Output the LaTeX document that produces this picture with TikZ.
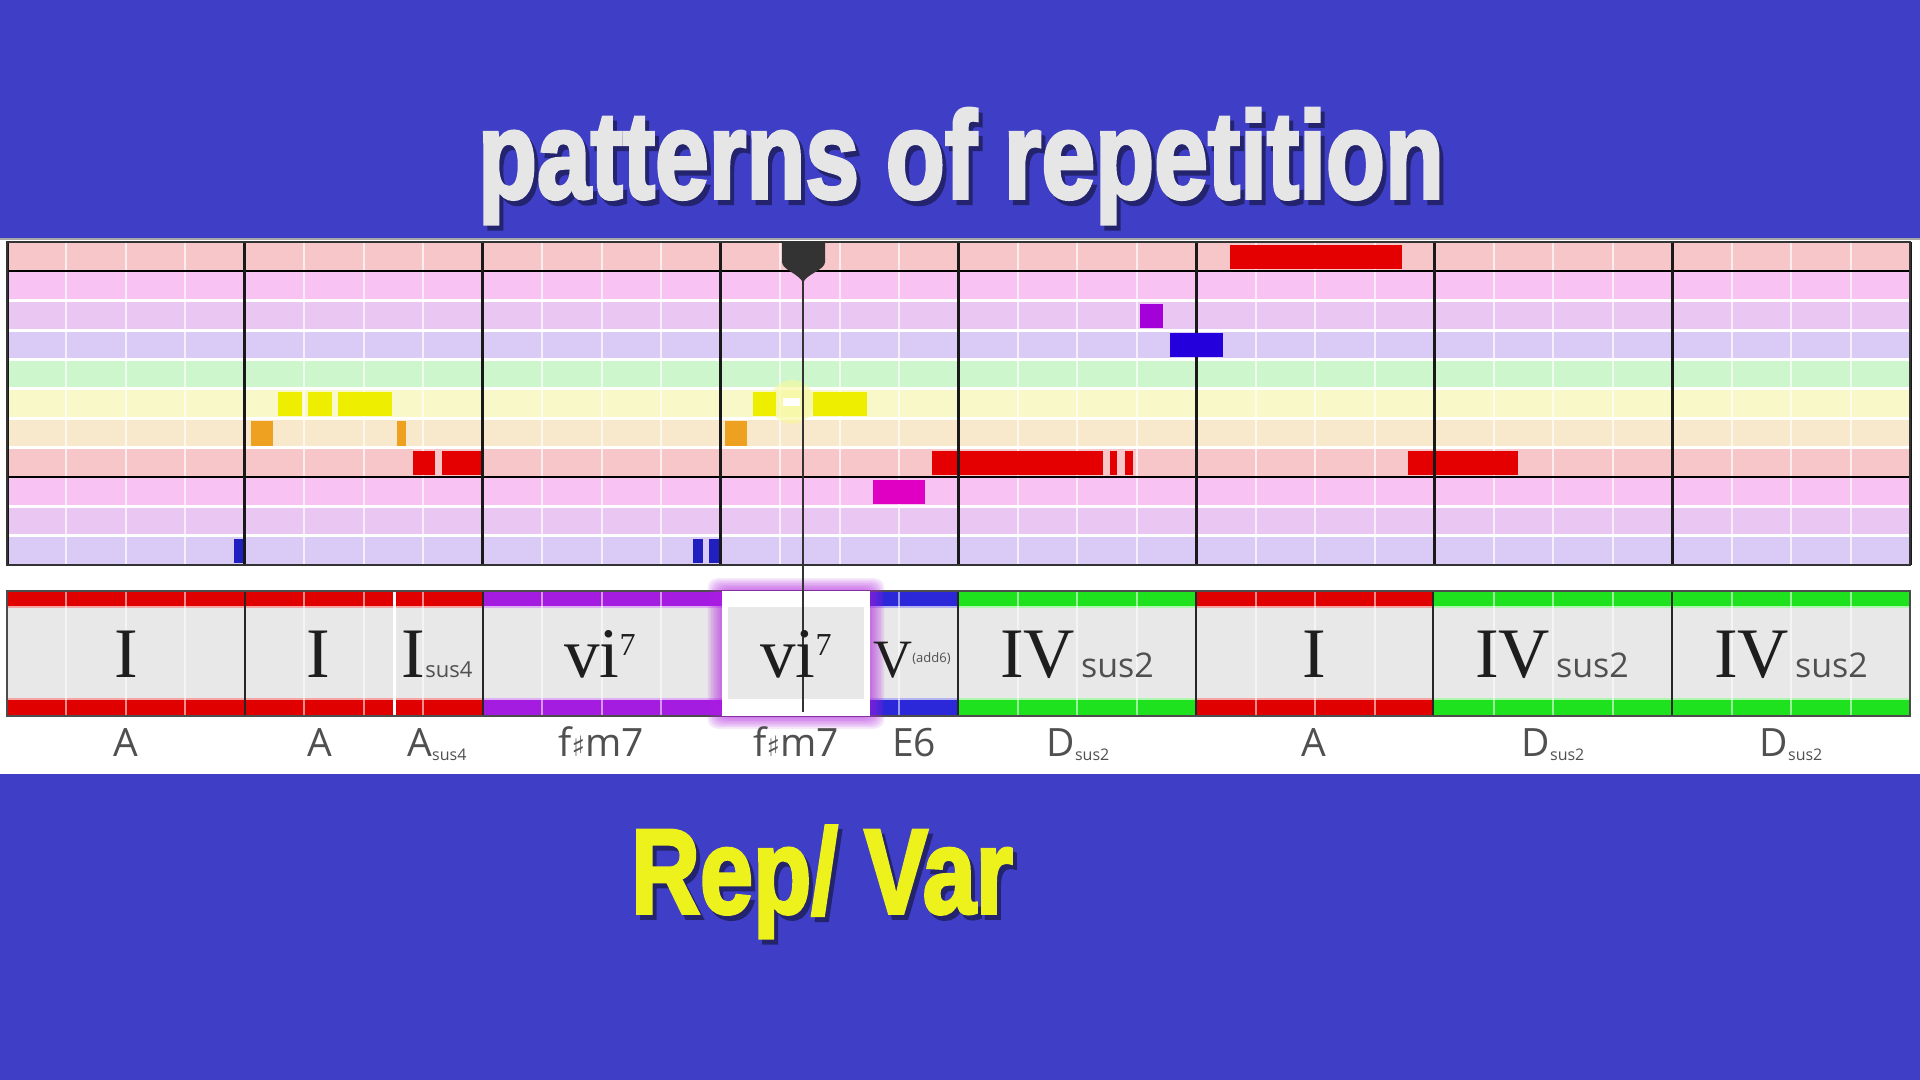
\documentclass[tikz,border=0pt]{standalone}
\usepackage{fontspec}
\usepackage{graphicx}
\setmainfont{Liberation Serif}
\newfontfamily\impactfont{Liberation Sans}[BoldFeatures={FakeBold=3}]
\newfontfamily\lblfont{Open Sans}
\newfontfamily\romfont{Liberation Serif}
\newfontfamily\symfont{DejaVu Sans}

\definecolor{bgblue}{HTML}{3E3EC6}
\definecolor{rowS}{HTML}{F6C6C8}
\definecolor{rowP}{HTML}{F8C2F2}
\definecolor{rowV}{HTML}{EAC6F2}
\definecolor{rowL}{HTML}{DACAF6}
\definecolor{rowG}{HTML}{CEF6CC}
\definecolor{rowY}{HTML}{F8F8C8}
\definecolor{rowO}{HTML}{F8E8CC}
\definecolor{nred}{HTML}{E40000}
\definecolor{nyellow}{HTML}{EEEE00}
\definecolor{norange}{HTML}{EEA020}
\definecolor{nmagenta}{HTML}{E000C4}
\definecolor{npurple}{HTML}{A400D8}
\definecolor{nblue}{HTML}{2400DC}
\definecolor{nblue2}{HTML}{2020C0}
\definecolor{cred}{HTML}{E00000}
\definecolor{cpurple}{HTML}{A41CE0}
\definecolor{cblue}{HTML}{2A28D8}
\definecolor{cgreen}{HTML}{1EE21E}
\definecolor{barbody}{HTML}{E8E8E8}
\definecolor{glowp}{HTML}{B020E0}
\definecolor{phgray}{HTML}{333333}
\definecolor{romcol}{HTML}{1E1E1E}
\definecolor{lblcol}{HTML}{505050}
\definecolor{titlegray}{HTML}{E6E6E6}
\definecolor{shadowblue}{HTML}{24246E}
\definecolor{repyellow}{HTML}{EEF21C}

\newcommand\pnote[4]{\fill[#4] (#1,{242+#3*29.36+3}) rectangle (#2,{242+#3*29.36+27.4});}
\newcommand\cstripe[3]{%
  \fill[#3] (#1,591) rectangle (#2,606);
  \fill[#3] (#1,700) rectangle (#2,716);
  \draw[#3!35!white, line width=0.8pt] (#1,607) -- (#2,607);
  \draw[#3!35!white, line width=0.8pt] (#1,699) -- (#2,699);}
\newcommand\shadowtext[3]{\rlap{\kern2.5pt\raisebox{-2.5pt}{\textcolor{shadowblue}{#1}}}\textcolor{#2}{#1}}

\tikzset{
  rom/.style={font={\romfont\fontsize{35.5pt}{36pt}\selectfont}, text=romcol, anchor=base, inner sep=0pt},
  chl/.style={font={\lblfont\fontsize{19.5pt}{20pt}\selectfont}, text=lblcol, anchor=base, inner sep=0pt},
  ttl/.style={font={\impactfont\bfseries\fontsize{60pt}{60pt}\selectfont}, anchor=base, inner sep=0pt},
  beat/.style={white, line width=1pt, opacity=0.7},
}

\begin{document}
\begin{tikzpicture}[x=0.5pt,y=-0.5pt]
\useasboundingbox (0,0) rectangle (1920,1080);
\fill[bgblue] (0,0) rectangle (1920,1080);
\fill[white] (0,238) rectangle (1920,774);
\draw[black!35, line width=0.8pt] (0,239) -- (1920,239);

% piano roll rows
\foreach \c [count=\i from 0] in {rowS,rowP,rowV,rowL,rowG,rowY,rowO,rowS,rowP,rowV,rowL}
  \fill[\c] (7,{242+\i*29.36}) rectangle (1910,{242+(\i+1)*29.36});
\foreach \i in {2,3,4,5,6,7,9,10}
  \draw[white, line width=1.5pt] (7,{242+\i*29.36}) -- (1910,{242+\i*29.36});
\foreach \m in {0,...,7} \foreach \b in {1,2,3}
  \draw[beat] ({7+\m*237.875+\b*59.47},242) -- ++(0,323);

% notes
\pnote{234}{244}{10}{nblue2}
\pnote{278}{302}{5}{nyellow}
\pnote{308}{332}{5}{nyellow}
\pnote{338}{392}{5}{nyellow}
\pnote{251}{273}{6}{norange}
\pnote{397}{406}{6}{norange}
\pnote{413}{435}{7}{nred}
\pnote{442}{481}{7}{nred}
\pnote{693}{703}{10}{nblue2}
\pnote{709}{719}{10}{nblue2}
\pnote{725}{747}{6}{norange}
\fill[nyellow!40!white, opacity=0.6] (792,402) circle (22);
\pnote{753}{776}{5}{nyellow}
\pnote{813}{867}{5}{nyellow}
\fill[white] (783,398) rectangle (800,406);
\pnote{873}{925}{8}{nmagenta}
\pnote{932}{1103}{7}{nred}
\pnote{1110}{1117}{7}{nred}
\pnote{1125}{1133}{7}{nred}
\pnote{1230}{1402}{0}{nred}
\pnote{1408}{1518}{7}{nred}

% grid lines
\draw[black, line width=1.1pt] (7,271.36) -- (1910,271.36);
\draw[black, line width=1.1pt] (7,476.9) -- (1910,476.9);
\foreach \m in {0,...,8}
  \draw[black!90, line width=1.5pt] ({7+\m*237.875},242) -- ({7+\m*237.875},565);
\draw[black!80, line width=1.1pt] (7,242) rectangle (1910,565);
\pnote{1140}{1163}{2}{npurple}
\pnote{1170}{1223}{3}{nblue}

% chord bar
\fill[barbody] (7,591) rectangle (1910,716);
\cstripe{7}{483}{cred}
\cstripe{483}{722}{cpurple}
\cstripe{722}{870}{cpurple}
\cstripe{870}{958}{cblue}
\cstripe{958}{1196}{cgreen}
\cstripe{1196}{1433}{cred}
\cstripe{1433}{1910}{cgreen}
\foreach \m in {0,...,7} \foreach \b in {1,2,3}
  \draw[white, line width=1pt, opacity=0.55] ({7+\m*237.875+\b*59.47},591) -- ++(0,125);
\draw[white, line width=1.5pt] (394,591) -- (394,716);
\foreach \x in {245,483,958,1196,1433,1672}
  \draw[black!85, line width=1.2pt] (\x,591) -- (\x,716);
\draw[black!70, line width=1pt] (7,591) rectangle (1910,716);

% highlighted current chord
\foreach \k in {1,...,8}
  \fill[glowp, opacity=0.1, rounded corners=5pt] ({722-\k*1.8},{591-\k*1.6}) rectangle ({870+\k*1.8},{716+\k*1.6});
\fill[white] (722,591) rectangle (870,716);
\fill[barbody] (728,607) rectangle (864,699);

% playhead
\draw[phgray, line width=1.2pt] (803,250) -- (803,712);
\fill[phgray] (782,243) -- (825,243) -- (825,262) .. controls (825,270) and (806,274) .. (803,283)
  .. controls (800,274) and (782,270) .. (782,262) -- cycle;

% roman numerals
\node[rom] (r1) at (126,677) {I};
\node[rom] (r2) at (318,677) {I};
\node[rom] (r3) at (437,677) {I{\lblfont\fontsize{11pt}{11pt}\selectfont\color{lblcol}sus4}};
\node[rom] (r4) at (600,677) {vi\raisebox{11pt}{\fontsize{16pt}{16pt}\selectfont 7}};
\node[rom] (r5) at (796,677) {vi\raisebox{11pt}{\fontsize{16pt}{16pt}\selectfont 7}};
\node[rom, font={\romfont\fontsize{27pt}{27pt}\selectfont}] (r6) at (912,677) {V\raisebox{7.5pt}{\lblfont\fontsize{6.5pt}{6.5pt}\selectfont\color{lblcol}(add6)}};
\node[rom] (r7) at (1077,677) {IV\hspace{3pt}{\lblfont\fontsize{17pt}{17pt}\selectfont\color{lblcol}sus2}};
\node[rom] (r8) at (1314,677) {I};
\node[rom] (r9) at (1552,677) {IV\hspace{3pt}{\lblfont\fontsize{17pt}{17pt}\selectfont\color{lblcol}sus2}};
\node[rom] (r10) at (1791,677) {IV\hspace{3pt}{\lblfont\fontsize{17pt}{17pt}\selectfont\color{lblcol}sus2}};

% chord names
\node[chl] (c1) at (126,756) {A};
\node[chl] (c2) at (320,756) {A};
\node[chl] (c3) at (437,756) {A\raisebox{-2pt}{\fontsize{8pt}{8pt}\selectfont sus4}};
\node[chl] (c4) at (601,756) {f{\symfont\fontsize{14pt}{14pt}\selectfont ♯}m7};
\node[chl] (c5) at (796,756) {f{\symfont\fontsize{14pt}{14pt}\selectfont ♯}m7};
\node[chl] (c6) at (914,756) {E6};
\node[chl] (c7) at (1078,756) {D\raisebox{-2pt}{\fontsize{8pt}{8pt}\selectfont sus2}};
\node[chl] (c8) at (1314,756) {A};
\node[chl] (c9) at (1553,756) {D\raisebox{-2pt}{\fontsize{8pt}{8pt}\selectfont sus2}};
\node[chl] (c10) at (1791,756) {D\raisebox{-2pt}{\fontsize{8pt}{8pt}\selectfont sus2}};

% titles
\node[ttl] (title) at (961,198) {\scalebox{0.805}[1.03]{\shadowtext{patterns of repetition}{titlegray}{}}};
\node[ttl] (repvar) at (822,913) {\scalebox{0.795}[1.0]{\shadowtext{Rep/ Var}{repyellow}{}}};
\end{tikzpicture}
\end{document}
